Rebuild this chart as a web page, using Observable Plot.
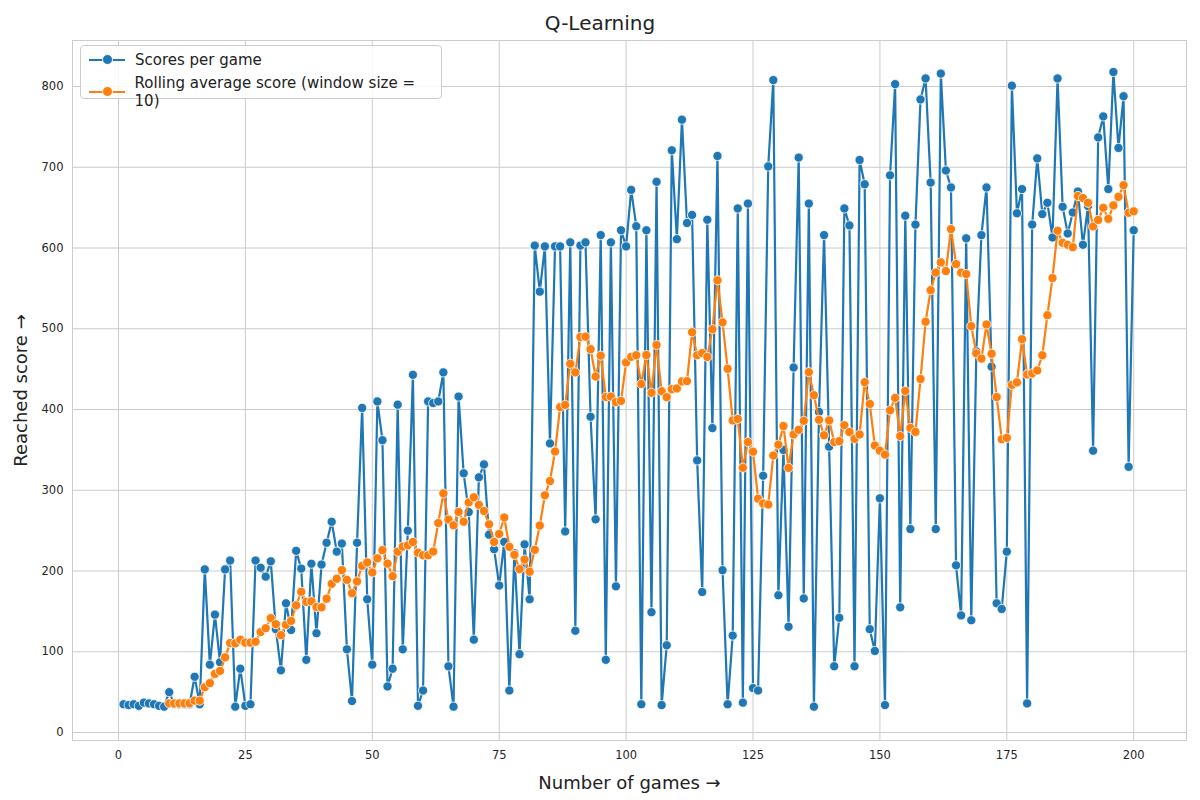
<!DOCTYPE html>
<html>
<head>
<meta charset="utf-8">
<script src="https://cdn.jsdelivr.net/npm/d3@7"></script>
<script src="https://cdn.jsdelivr.net/npm/@observablehq/plot@0.6"></script>
<style>
  body { margin: 0; background: #fff; font-family: "DejaVu Sans", sans-serif; }
  #wrap { position: relative; width: 1200px; height: 800px; }
  #title { height: 40px; line-height: 46px; text-align: center; font-size: 20px; color: #222; }
  #legend { position: absolute; left: 80px; top: 45px; width: 362px; height: 54px; border: 1px solid #ccc;
            border-radius: 4px; background: rgba(255,255,255,0.85); font-size: 15px; color: #222; box-sizing: border-box; }
  .row { position: absolute; left: 8px; display: flex; align-items: center; }
  .sw { position: relative; width: 36px; height: 14px; margin-right: 10px; }
  .sw .ln { position: absolute; left: 0; right: 0; top: 6px; height: 2px; }
  .sw .dt { position: absolute; left: 13px; top: 2px; width: 9px; height: 9px; border-radius: 50%; border: 1px solid #fff; box-sizing: content-box; top: 1px; }
</style>
</head>
<body>
<div id="wrap">
  <div id="title">Q-Learning</div>
  <div id="chart"></div>
  <div id="legend">
    <div class="row" style="top:5px"><div class="sw"><div class="ln" style="background:#1f77b4"></div><div class="dt" style="background:#1f77b4"></div></div>Scores per game</div>
    <div class="row" style="top:28px"><div class="sw"><div class="ln" style="background:#ff7f0e"></div><div class="dt" style="background:#ff7f0e"></div></div>Rolling average score (window size = 10)</div>
  </div>
</div>
<script>
// scores per game, games 1..200
const scores = [
  35, 34, 35, 33, 37, 36, 35, 33, 32, 50,
  35, 35, 35, 35, 69, 35, 202, 84, 146, 87,
  202, 213, 32, 79, 33, 35, 213, 204, 193, 212,
  128, 77, 160, 127, 225, 203, 90, 209, 123, 208,
  235, 261, 224, 234, 103, 39, 235, 402, 165, 84,
  410, 362, 57, 79, 406, 103, 250, 443, 33, 52,
  410, 408, 410, 446, 82, 32, 416, 321, 273, 115,
  316, 332, 245, 227, 182, 236, 52, 222, 97, 233,
  165, 603, 546, 602, 358, 602, 602, 249, 607, 126,
  603, 607, 391, 264, 616, 90, 607, 181, 622, 602,
  672, 627, 35, 622, 149, 682, 34, 108, 721, 611,
  759, 631, 641, 337, 174, 635, 377, 714, 201, 35,
  120, 649, 37, 655, 55, 52, 318, 701, 808, 170,
  350, 131, 452, 712, 166, 655, 32, 397, 616, 354,
  82, 142, 649, 628, 82, 709, 679, 128, 101, 290,
  34, 690, 803, 155, 640, 252, 629, 784, 810, 681,
  252, 816, 696, 675, 207, 145, 612, 139, 472, 616,
  675, 453, 160, 153, 224, 801, 643, 673, 36, 629,
  711, 642, 656, 613, 810, 651, 618, 644, 670, 604,
  652, 349, 737, 763, 673, 818, 724, 788, 329, 622
];
const games = scores.map((_, i) => i + 1);
const xTicks = [0, 25, 50, 75, 100, 125, 150, 175, 200];
const yTicks = [0, 100, 200, 300, 400, 500, 600, 700, 800];
const windowSize = 10;

const data = games.map((g, i) => ({game: g, score: scores[i]}));
const blue = "#1f77b4", orange = "#ff7f0e";
const roll = Plot.windowY({k: windowSize, anchor: "end", strict: true}, {x: "game", y: "score"});

const chart = Plot.plot({
  width: 1200,
  height: 760,
  marginLeft: 72,
  marginRight: 14,
  marginTop: 0,
  marginBottom: 60,
  style: {fontFamily: "DejaVu Sans, sans-serif", fontSize: "11.5px", color: "#262626", background: "#fff", overflow: "visible"},
  x: {domain: [-9.06, 210.4], ticks: xTicks, tickSize: 0, tickPadding: 10, label: "Number of games", labelAnchor: "center", labelOffset: 48},
  y: {domain: [-9.9, 857], ticks: yTicks, tickSize: 0, tickPadding: 9, label: "Reached score", labelAnchor: "center", labelOffset: 58},
  marks: [
    Plot.gridX(xTicks, {stroke: "#cccccc", strokeOpacity: 1, strokeWidth: 1}),
    Plot.gridY(yTicks, {stroke: "#cccccc", strokeOpacity: 1, strokeWidth: 1}),
    Plot.frame({stroke: "#cccccc"}),
    Plot.line(data, {x: "game", y: "score", stroke: blue, strokeWidth: 2.2}),
    Plot.dot(data, {x: "game", y: "score", fill: blue, stroke: "#fff", strokeWidth: 0.8, r: 4.6}),
    Plot.line(data, {...roll, stroke: orange, strokeWidth: 2.2}),
    Plot.dot(data, {...roll, fill: orange, stroke: "#fff", strokeWidth: 0.8, r: 4.6})
  ]
});
d3.select("#chart").append(() => chart);
d3.select(chart).selectAll("[aria-label='x-axis label'] text, [aria-label='y-axis label'] text")
  .style("font-size", "18px").attr("fill", "#222");
</script>
</body>
</html>
